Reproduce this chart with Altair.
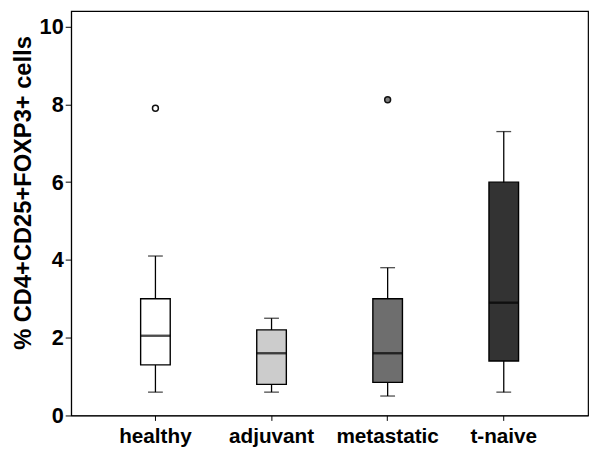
import altair as alt
import pandas as pd

categories = ["healthy", "adjuvant", "metastatic", "t-naive"]
whisker_low = [0.6, 0.6, 0.5, 0.6]
q1 = [1.3, 0.8, 0.85, 1.4]
median = [2.05, 1.6, 1.6, 2.9]
q3 = [3.0, 2.2, 3.0, 6.0]
whisker_high = [4.1, 2.5, 3.8, 7.3]
fills = ["#ffffff", "#cccccc", "#6e6e6e", "#333333"]

outlier_cat = ["healthy", "metastatic"]
outlier_val = [7.9, 8.12]
outlier_fill = ["#ffffff", "#808080"]

y_ticks = [0, 2, 4, 6, 8, 10]

box = pd.DataFrame({
    "group": categories,
    "lo": whisker_low,
    "q1": q1,
    "med": median,
    "q3": q3,
    "hi": whisker_high,
})
out = pd.DataFrame({"group": outlier_cat, "val": outlier_val, "fill": outlier_fill})

FONT = "Liberation Sans"

x_enc = alt.X(
    "group:N",
    sort=categories,
    scale=alt.Scale(paddingInner=0, paddingOuter=0.226),
    axis=alt.Axis(
        title=None, labelAngle=0, labelFont=FONT, labelFontWeight="bold",
        labelFontSize=21, labelColor="black", tickSize=5, tickColor="black",
        domainColor="black", labelPadding=5,
    ),
)
y_scale = alt.Scale(domain=[0, 10.4], nice=False, zero=True)
y_axis = alt.Axis(
    title="% CD4+CD25+FOXP3+ cells", values=y_ticks, grid=False,
    labelFont=FONT, labelFontWeight="bold", labelFontSize=22, labelColor="black",
    tickSize=6, tickColor="black", domainColor="black", labelPadding=2,
    titleFont=FONT, titleFontWeight="bold", titleFontSize=24, titleColor="black",
    titleX=-41, titleY=184, titleAlign="center", titleBaseline="alphabetic", titleAngle=-90,
)

base = alt.Chart(box)

whisk = base.mark_rule(color="black", strokeWidth=1.3).encode(
    x=x_enc,
    y=alt.Y("lo:Q", scale=y_scale, axis=y_axis),
    y2="hi:Q",
)
cap_lo = base.mark_tick(color="black", size=15, thickness=1.3).encode(
    x=alt.X("group:N", sort=categories), y=alt.Y("lo:Q")
)
cap_hi = base.mark_tick(color="black", size=15, thickness=1.3).encode(
    x=alt.X("group:N", sort=categories), y=alt.Y("hi:Q")
)
bars = base.mark_bar(size=30, stroke="black", strokeWidth=1.4).encode(
    x=alt.X("group:N", sort=categories),
    y=alt.Y("q1:Q"),
    y2="q3:Q",
    fill=alt.Fill("group:N", scale=alt.Scale(domain=categories, range=fills), legend=None),
)
med = base.mark_tick(color="black", size=30, thickness=2.4).encode(
    x=alt.X("group:N", sort=categories), y=alt.Y("med:Q")
)
pts = alt.Chart(out).mark_point(shape="circle", size=36, filled=True, stroke="#111111", strokeWidth=1.5, opacity=1).encode(
    x=alt.X("group:N", sort=categories),
    y=alt.Y("val:Q"),
    fill=alt.Fill("fill:N", scale=None),
)

chart = alt.layer(whisk, cap_lo, cap_hi, bars, med, pts).properties(
    width=524, height=410,
    autosize=alt.AutoSizeParams(type="none"),
    padding={"left": 64, "top": 0, "right": 4, "bottom": 36},
    background="white",
).configure_view(stroke="black", strokeWidth=1.2)

chart.save("out.html", embed_options={"renderer": "svg", "actions": False})
